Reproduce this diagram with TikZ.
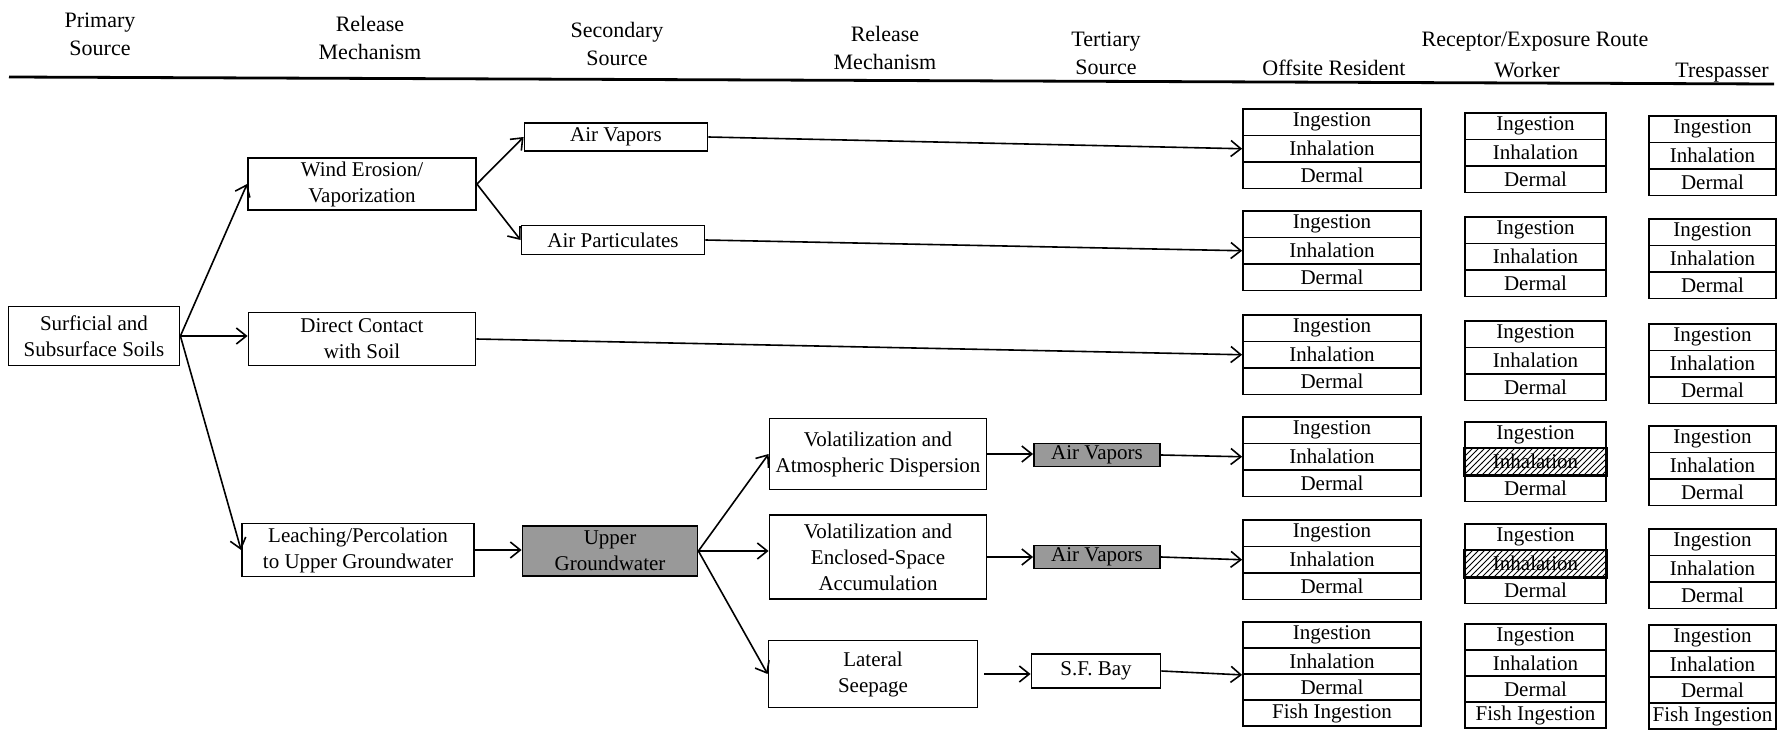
\documentclass[tikz,border=0pt]{standalone}
\usepackage{fontspec}
\setmainfont{Liberation Serif}
\usetikzlibrary{arrows.meta,patterns}
\newcommand{\rgrp}[4]{%
  \node[cell,minimum width=#4] (#1a) at (#2,#3+13.25) {Ingestion};
  \node[cell,minimum width=#4] (#1b) at (#2,#3+39.75) {Inhalation};
  \node[cell,minimum width=#4] (#1c) at (#2,#3+66.25) {Dermal};}
\newcommand{\fgrp}[4]{%
  \node[fcell,minimum width=#4] (#1a) at (#2,#3+13) {Ingestion};
  \node[fcell,minimum width=#4] (#1b) at (#2,#3+39) {Inhalation};
  \node[fcell,minimum width=#4] (#1c) at (#2,#3+65) {Dermal};
  \node[fcell,minimum width=#4] (#1d) at (#2,#3+91) {Fish Ingestion};}
\begin{document}
\begin{tikzpicture}[x=0.5pt,y=-0.5pt,
  box/.style={draw,line width=0.9pt,align=center,inner sep=1pt,font=\fontsize{10.5}{13}\selectfont},
  shaded/.style={box,fill=black!40,inner sep=0.5pt},
  cell/.style={draw,line width=0.9pt,inner sep=0pt,minimum height=13.25pt,font=\fontsize{10.5}{12}\selectfont},
  fcell/.style={cell,minimum height=13pt},
  hdr/.style={align=center,font=\fontsize{11}{14}\selectfont},
  arr/.style={line width=0.8pt,-{Straight Barb[length=5pt,width=8pt]}}]
\useasboundingbox (0,0) rectangle (1783,733);
% header
\node[hdr] (h1) at (100,34) {Primary\\Source};
\node[hdr] (h2) at (370,38) {Release\\Mechanism};
\node[hdr] (h3) at (617,44) {Secondary\\Source};
\node[hdr] (h4) at (885,48) {Release\\Mechanism};
\node[hdr] (h5) at (1106,53) {Tertiary\\Source};
\node[hdr] (h6) at (1535,42) {Receptor/Exposure Route};
\node[hdr] (h7) at (1334,68) {Offsite Resident};
\node[hdr] (h8) at (1527,70) {Worker};
\node[hdr] (h9) at (1722,73) {Trespasser};
\coordinate (hl) at (9,77);
\coordinate (hr) at (1774,84);
\draw[line width=1.4pt] (hl) -- (hr);
% sources and mechanisms
\node[box,minimum width=85.5pt,minimum height=29.5pt] (soils) at (94,336) {Surficial and\\Subsurface Soils};
\node[box,minimum width=114pt,minimum height=26pt] (wind) at (362,184) {Wind Erosion/\\Vaporization};
\node[box,minimum width=113.5pt,minimum height=26.5pt] (direct) at (362,339) {Direct Contact\\with Soil};
\node[box,minimum width=116pt,minimum height=26.5pt] (leach) at (358,550) {Leaching/Percolation\\to Upper Groundwater};
\node[box,minimum width=91.5pt,minimum height=14pt] (airv) at (616,137) {Air Vapors};
\node[box,minimum width=91.5pt,minimum height=14.5pt] (airp) at (613,240) {Air Particulates};
\node[shaded,minimum width=87.5pt,minimum height=25pt] (ugw) at (610,551) {Upper\\Groundwater};
\node[box,minimum width=108.5pt,minimum height=35.5pt] (volatm) at (878,454) {Volatilization and\\Atmospheric Dispersion};
\node[box,minimum width=108.5pt,minimum height=42pt] (volenc) at (878,557) {Volatilization and\\Enclosed-Space\\Accumulation};
\node[box,minimum width=104.5pt,minimum height=33.5pt] (lateral) at (873,674) {Lateral\\Seepage};
\node[shaded,minimum width=63pt,minimum height=11.5pt] (tav1) at (1097,455) {Air Vapors};
\node[shaded,minimum width=63pt,minimum height=11.5pt] (tav2) at (1097,557) {Air Vapors};
\node[box,minimum width=64.5pt,minimum height=17pt] (sfbay) at (1096,671) {S.F. Bay};
% receptor groups
\rgrp{r1o}{1332}{109}{89pt}
\rgrp{r2o}{1332}{211}{89pt}
\rgrp{r3o}{1332}{315}{89pt}
\rgrp{r4o}{1332}{417}{89pt}
\rgrp{r5o}{1332}{520}{89pt}
\fgrp{r6o}{1332}{622}{89pt}
\rgrp{r1w}{1535.5}{113}{70.5pt}
\rgrp{r2w}{1535.5}{217}{70.5pt}
\rgrp{r3w}{1535.5}{321}{70.5pt}
\rgrp{r4w}{1535.5}{422}{70.5pt}
\rgrp{r5w}{1535.5}{524}{70.5pt}
\fgrp{r6w}{1535.5}{624}{70.5pt}
\rgrp{r1t}{1712.5}{116}{63.5pt}
\rgrp{r2t}{1712.5}{219}{63.5pt}
\rgrp{r3t}{1712.5}{324}{63.5pt}
\rgrp{r4t}{1712.5}{426}{63.5pt}
\rgrp{r5t}{1712.5}{529}{63.5pt}
\fgrp{r6t}{1712.5}{625}{63.5pt}
% hatched cells
\fill[pattern=north east lines] (r4wb.south west) rectangle (r4wb.north east);
\draw[line width=0.9pt] (r4wb.south west) rectangle (r4wb.north east);
\fill[pattern=north east lines] (r5wb.south west) rectangle (r5wb.north east);
\draw[line width=0.9pt] (r5wb.south west) rectangle (r5wb.north east);
% connectors
\draw[arr] (soils.east) -- (wind.west);
\draw[arr] (soils.east) -- (soils.east -| direct.west);
\draw[arr] (soils.east) -- (leach.west);
\draw[arr] (wind.east) -- (airv.west);
\draw[arr] (wind.east) -- (airp.west);
\draw[arr] (airv.east) -- (r1ob.west);
\draw[arr] (airp.east) -- (r2ob.west);
\draw[arr] (direct.east) -- (r3ob.west);
\draw[arr] (leach.east) -- (leach.east -| ugw.west);
\draw[arr] (ugw.east) -- (volatm.west);
\draw[arr] (ugw.east) -- (ugw.east -| volenc.west);
\draw[arr] (ugw.east) -- (lateral.west);
\draw[arr] (volatm.east) -- (volatm.east -| tav1.west);
\draw[arr] (tav1.east) -- (r4ob.west);
\draw[arr] (volenc.east) -- (volenc.east -| tav2.west);
\draw[arr] (tav2.east) -- (r5ob.west);
\draw[arr,shorten <=3pt] (lateral.east) -- (lateral.east -| sfbay.west);
\draw[arr] (sfbay.east) -- (r6ob.south west);
\end{tikzpicture}
\end{document}
